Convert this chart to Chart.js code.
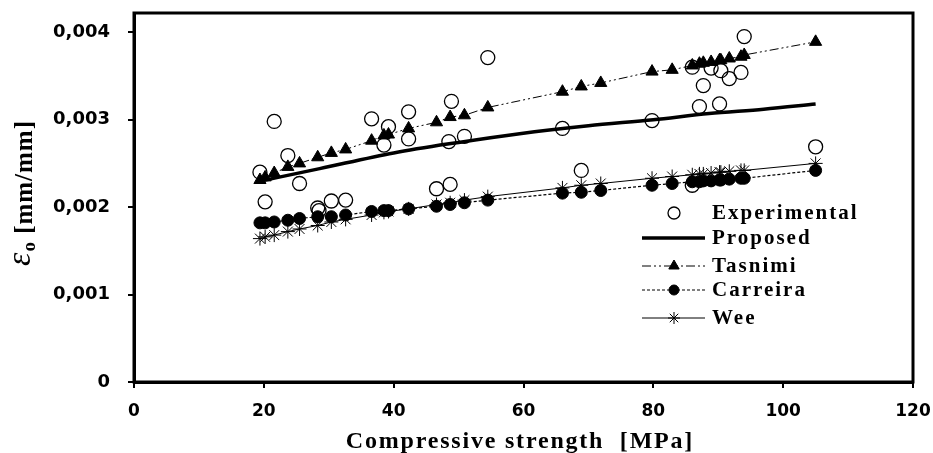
<!DOCTYPE html>
<html>
<head>
<meta charset="utf-8">
<script src="https://cdn.jsdelivr.net/npm/chart.js@4.4.1/dist/chart.umd.min.js"></script>
<style>
  body { margin: 0; background: #fff; }
  #wrap { width: 933px; height: 453px; }
</style>
</head>
<body>
<div id="wrap"><canvas id="myChart" width="933" height="453"></canvas></div>
<script>
// experimental points (compressive strength MPa, peak strain)
const EXP_FC = [19.4, 20.2, 21.6, 23.7, 25.5, 28.3, 28.5, 30.4, 32.6, 36.6, 38.5, 39.2, 42.3, 42.3, 46.6, 48.7, 48.5, 48.9, 50.9, 54.5, 66.0, 68.9, 79.8, 86.0, 86.0, 87.1, 87.7, 88.9, 90.2, 90.4, 91.7, 93.5, 94.0, 105.0];
const EXP_EPS = [0.00240, 0.00206, 0.00298, 0.00259, 0.00227, 0.00199, 0.00196, 0.00207, 0.00208, 0.00301, 0.00271, 0.00292, 0.00309, 0.00278, 0.00221, 0.00226, 0.00275, 0.00321, 0.00281, 0.00371, 0.00290, 0.00242, 0.00299, 0.00360, 0.00225, 0.00315, 0.00339, 0.00359, 0.00318, 0.00356, 0.00347, 0.00354, 0.00395, 0.00269];

// model predictions at the specimen strengths
const MODEL_FC = [19.4, 20.2, 21.6, 23.7, 25.5, 28.3, 30.4, 32.6, 36.6, 38.5, 39.2, 42.3, 46.6, 48.7, 50.9, 54.5, 66.0, 68.9, 71.9, 79.8, 82.9, 86.0, 87.1, 87.7, 88.9, 90.2, 90.4, 91.7, 93.5, 94.0, 105.0];
const TASNIMI = [0.00231, 0.00234, 0.00239, 0.00246, 0.00250, 0.00257, 0.00262, 0.00266, 0.00276, 0.00282, 0.00283, 0.00290, 0.00297, 0.00303, 0.00305, 0.00314, 0.00332, 0.00338, 0.00342, 0.00355, 0.00357, 0.00362, 0.00364, 0.00365, 0.00366, 0.00368, 0.00368, 0.00370, 0.00372, 0.00374, 0.00389];
const CARREIRA = [0.00182, 0.00182, 0.00183, 0.00185, 0.00187, 0.00189, 0.00189, 0.00191, 0.00195, 0.00196, 0.00196, 0.00198, 0.00201, 0.00203, 0.00205, 0.00208, 0.00216, 0.00217, 0.00219, 0.00225, 0.00227, 0.00229, 0.00229, 0.00230, 0.00230, 0.00231, 0.00231, 0.00232, 0.00233, 0.00233, 0.00242];
const WEE = [0.00164, 0.00166, 0.00168, 0.00172, 0.00175, 0.00179, 0.00183, 0.00186, 0.00191, 0.00194, 0.00195, 0.00198, 0.00203, 0.00205, 0.00208, 0.00212, 0.00222, 0.00225, 0.00227, 0.00233, 0.00235, 0.00237, 0.00238, 0.00238, 0.00239, 0.00240, 0.00240, 0.00241, 0.00242, 0.00242, 0.00250];

// proposed curve
const PROPOSED_FC = [19, 28.6, 40, 50, 59.4, 70, 80, 88.6, 97, 105];
const PROPOSED = [0.00229, 0.00244, 0.00262, 0.00274, 0.00284, 0.00293, 0.00300, 0.00307, 0.00312, 0.00318];

const X_TICKS = [0, 20, 40, 60, 80, 100, 120];
const Y_TICKS = [0, 0.001, 0.002, 0.003, 0.004];
const Y_TICK_LABELS = ["0", "0,001", "0,002", "0,003", "0,004"];
const LEGEND_NAMES = ["Experimental", "Proposed", "Tasnimi", "Carreira", "Wee"];

function pts(xs, ys) {
  return xs.map((x, i) => ({ x: x, y: ys[i] }));
}

const serif = '"Liberation Serif", "Times New Roman", serif';
const sans = '"DejaVu Sans", Arial, sans-serif';

// frame, axis titles and the in-plot legend
const extras = {
  id: "extras",
  afterDraw(chart) {
    const ctx = chart.ctx;
    const a = chart.chartArea;
    ctx.save();
    ctx.strokeStyle = "#000";
    ctx.lineWidth = 3;
    ctx.strokeRect(a.left, a.top, a.right - a.left, a.bottom - a.top);

    ctx.fillStyle = "#000";
    ctx.textBaseline = "alphabetic";
    ctx.textAlign = "center";
    ctx.font = "bold 24px " + serif;
    ctx.letterSpacing = "1.8px";
    ctx.fillText("Compressive strength  [MPa]", 520, 448);

    // y title: ε with subscript o, then [mm/mm]
    ctx.save();
    ctx.translate(32, 193);
    ctx.rotate(-Math.PI / 2);
    ctx.textAlign = "left";
    ctx.letterSpacing = "1px";
    const f1 = "italic 34px " + serif, f2 = "bold 19px " + serif, f3 = "bold 25px " + serif;
    ctx.font = f1; const w1 = ctx.measureText("ε").width;
    ctx.font = f2; const w2 = ctx.measureText("o").width;
    ctx.font = f3; const w3 = ctx.measureText(" [mm/mm]").width;
    let x0 = -(w1 + w2 + w3) / 2;
    ctx.font = f1; ctx.fillText("ε", x0, -2);
    ctx.font = f2; ctx.fillText("o", x0 + w1, 3);
    ctx.font = f3; ctx.fillText(" [mm/mm]", x0 + w1 + w2, 0);
    ctx.restore();

    // legend
    const sets = chart.data.datasets;
    const rows = [213, 238, 266, 290, 318];
    ctx.font = "bold 21px " + serif;
    ctx.textAlign = "left";
    ctx.textBaseline = "middle";
    ctx.letterSpacing = "2px";
    rows.forEach((y, i) => {
      const ds = sets[i];
      ctx.strokeStyle = "#000";
      ctx.fillStyle = "#000";
      if (ds.showLine !== false) {
        ctx.setLineDash(ds.borderDash || []);
        ctx.lineWidth = ds.borderWidth;
        ctx.beginPath();
        ctx.moveTo(642, y);
        ctx.lineTo(705, y);
        ctx.stroke();
        ctx.setLineDash([]);
      }
      if (ds.pointRadius > 0) {
        ctx.fillStyle = ds.pointBackgroundColor;
        ctx.lineWidth = ds.pointBorderWidth;
        Chart.helpers.drawPoint(ctx, {
          pointStyle: ds.pointStyle,
          radius: i == 0 ? 6 : ds.pointRadius - 1,
          rotation: 0,
          borderWidth: ds.pointBorderWidth
        }, 674, y);
      }
      ctx.fillStyle = "#000";
      ctx.fillText(LEGEND_NAMES[i], 712, y + 1);
    });
    ctx.restore();
  }
};

ctx = document.getElementById("myChart").getContext("2d");
myChart = new Chart(ctx, {
  type: "scatter",
  data: {
    datasets: [
      {
        label: LEGEND_NAMES[0],
        data: pts(EXP_FC, EXP_EPS),
        showLine: false,
        pointStyle: "circle",
        pointRadius: 7,
        pointBorderWidth: 1.3,
        pointBorderColor: "#000",
        pointBackgroundColor: "rgba(255,255,255,0)",
        order: 0,
      },
      {
        label: LEGEND_NAMES[1],
        data: pts(PROPOSED_FC, PROPOSED),
        showLine: true,
        borderColor: "#000",
        borderWidth: 3.5,
        pointRadius: 0,
        cubicInterpolationMode: "monotone",
        order: 1,
      },
      {
        label: LEGEND_NAMES[2],
        data: pts(MODEL_FC, TASNIMI),
        showLine: true,
        borderColor: "#000",
        borderWidth: 1,
        borderDash: [9, 3, 2, 3, 2, 3],
        pointStyle: "triangle",
        pointRadius: 7,
        pointBorderWidth: 1,
        pointBorderColor: "#000",
        pointBackgroundColor: "#000",
        order: 2,
      },
      {
        label: LEGEND_NAMES[3],
        data: pts(MODEL_FC, CARREIRA),
        showLine: true,
        borderColor: "#000",
        borderWidth: 1.2,
        borderDash: [3, 2],
        pointStyle: "circle",
        pointRadius: 6,
        pointBorderWidth: 1,
        pointBorderColor: "#000",
        pointBackgroundColor: "#000",
        order: 3,
      },
      {
        label: LEGEND_NAMES[4],
        data: pts(MODEL_FC, WEE),
        showLine: true,
        borderColor: "#000",
        borderWidth: 1,
        pointStyle: "star",
        pointRadius: 7,
        pointBorderWidth: 1,
        pointBorderColor: "#000",
        pointBackgroundColor: "#000",
        order: 4,
      },
    ],
  },
  options: {
    responsive: false,
    animation: false,
    layout: { padding: { left: 0, right: 20, top: 13, bottom: 0 } },
    plugins: {
      legend: { display: false },
      tooltip: { enabled: false },
    },
    scales: {
      x: {
        type: "linear",
        min: 0,
        max: 120,
        afterBuildTicks: (scale) => {
          scale.ticks = X_TICKS.map((v) => ({ value: v }));
        },
        afterFit: (scale) => {
          scale.height = 71;
          scale.paddingLeft = 0;
          scale.paddingRight = 0;
        },
        grid: { drawOnChartArea: false, color: "#000", lineWidth: 2, tickLength: 6 },
        border: { color: "#000", width: 3 },
        ticks: {
          color: "#000",
          padding: 13,
          maxRotation: 0,
          font: { family: sans, weight: "bold", size: 17 },
        },
      },
      y: {
        type: "linear",
        min: 0,
        max: 0.00422,
        afterBuildTicks: (scale) => {
          scale.ticks = Y_TICKS.map((v) => ({ value: v }));
        },
        afterFit: (scale) => {
          scale.width = 134;
          scale.paddingTop = 0;
          scale.paddingBottom = 0;
        },
        grid: { drawOnChartArea: false, color: "#000", lineWidth: 2, tickLength: 6 },
        border: { color: "#000", width: 3 },
        ticks: {
          color: "#000",
          padding: 18,
          font: { family: sans, weight: "bold", size: 18 },
          callback: (v) => {
            const i = Y_TICKS.findIndex((t) => Math.abs(t - v) < 1e-9);
            return i >= 0 ? Y_TICK_LABELS[i] : "";
          },
        },
      },
    },
  },
  plugins: [extras],
});
</script>
</body>
</html>
